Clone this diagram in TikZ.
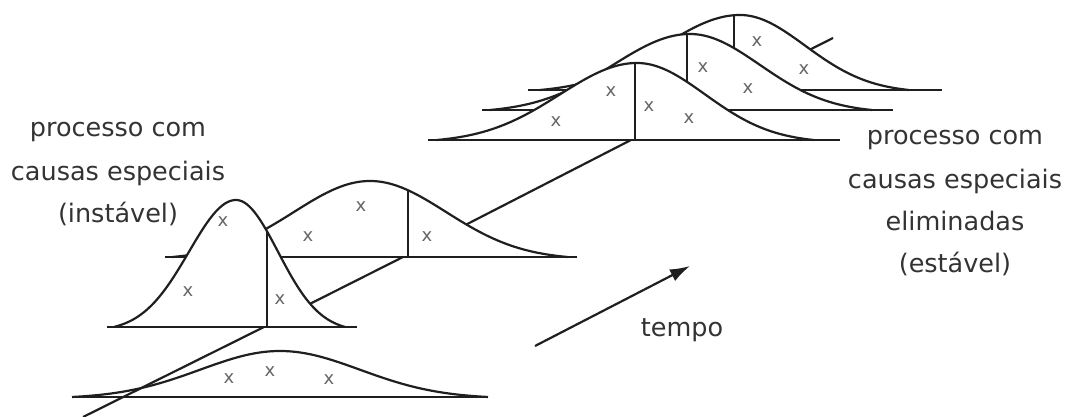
\documentclass[tikz,border=0pt]{standalone}
\usepackage{fontspec}
\setmainfont{DejaVu Sans}
\usetikzlibrary{arrows.meta}
% #1 mean, #2 base y, #3 height, #4 sigma left, #5 sigma right  (tails cut at 2.6 sigma, touching the base)
\newcommand{\bellfill}[5]{%
  \fill[white] ({#1-2.6*#4},#2) -- plot[domain={#1-2.6*#4}:#1,samples=60] (\x,{#2-#3*(exp(-0.5*((\x-#1)/#4)*((\x-#1)/#4))-0.034)/0.966})
    -- plot[domain=#1:{#1+2.6*#5},samples=60] (\x,{#2-#3*(exp(-0.5*((\x-#1)/#5)*((\x-#1)/#5))-0.034)/0.966}) -- cycle;}
\newcommand{\bellcurve}[5]{%
  \draw[curve] plot[domain={#1-2.6*#4}:#1,samples=60] (\x,{#2-#3*(exp(-0.5*((\x-#1)/#4)*((\x-#1)/#4))-0.034)/0.966})
    -- plot[domain=#1:{#1+2.6*#5},samples=60] (\x,{#2-#3*(exp(-0.5*((\x-#1)/#5)*((\x-#1)/#5))-0.034)/0.966});}
\begin{document}
\begin{tikzpicture}[x=1pt,y=-1pt,
  curve/.style={line width=2.2pt, draw=black!88, line join=round},
  xmk/.style={font=\fontsize{18}{18}\selectfont, text=black!60, inner sep=0pt},
  lbl/.style={font=\fontsize{25.5}{30}\selectfont, text=black!80, inner sep=0pt, anchor=base}]
\useasboundingbox (0,0) rectangle (1065,417);

% time axis through the base points
\coordinate (a0) at (83,417);
\coordinate (b2) at (264,327);
\coordinate (b3) at (403,257);
\coordinate (b4) at (630,140.5);
\coordinate (a1) at (833,38);
\draw[curve] (a0) -- (b2) -- (b3) -- (b4) -- (a1);

% D6 (back)
\bellfill{740}{90}{75}{77}{65}
\coordinate (l6a) at (528,90); \coordinate (l6b) at (942,90);
\draw[curve] (l6a) -- (l6b);
\bellcurve{740}{90}{75}{77}{65}
\coordinate (v6a) at (734,90); \coordinate (v6b) at (734,15.2);
\draw[curve] (v6a) -- (v6b);

% D5
\bellfill{690}{110}{76}{77}{70}
\coordinate (l5a) at (482,110); \coordinate (l5b) at (893,110);
\draw[curve] (l5a) -- (l5b);
\bellcurve{690}{110}{76}{77}{70}
\coordinate (v5a) at (687,110); \coordinate (v5b) at (687,34);
\draw[curve] (v5a) -- (v5b);

% D4
\bellfill{637}{140}{77}{77}{68}
\coordinate (l4a) at (428,140); \coordinate (l4b) at (840,140);
\draw[curve] (l4a) -- (l4b);
\bellcurve{637}{140}{77}{77}{68}
\coordinate (v4a) at (635,140); \coordinate (v4b) at (635,63);
\draw[curve] (v4a) -- (v4b);

% D3
\bellfill{370}{257}{76}{76}{76}
\coordinate (l3a) at (165,257); \coordinate (l3b) at (577,257);
\draw[curve] (l3a) -- (l3b);
\bellcurve{370}{257}{76}{76}{76}
\coordinate (v3a) at (408,257); \coordinate (v3b) at (408,190.2);
\draw[curve] (v3a) -- (v3b);

% D2
\bellfill{236}{327}{127}{47}{42}
\coordinate (l2a) at (107,327); \coordinate (l2b) at (357,327);
\draw[curve] (l2a) -- (l2b);
\bellcurve{236}{327}{127}{47}{42}
\coordinate (v2a) at (267,327); \coordinate (v2b) at (267,231.3);
\draw[curve] (v2a) -- (v2b);

% D1 (front)
\coordinate (l1a) at (73,397); \coordinate (l1b) at (487,397);
\draw[curve] (l1a) -- (l1b);
\bellcurve{280}{397}{46}{80}{80}

% x marks
\foreach \p [count=\i] in {(229,379),(270,372),(329,380),
  (223,222),(188,292),(280,300),
  (308,237),(361,207),(427,237),
  (556,122),(611,92),(649,107),(689,119),(703,68),(748,89),(757,42),(804,70)}
  \node[xmk] (x\i) at \p {x};

% labels
\node[lbl] (la1) at (118,137) {processo com};
\node[lbl] (la2) at (118,180) {causas especiais};
\node[lbl] (la3) at (118,222) {(instável)};
\node[lbl] (lb1) at (955,145) {processo com};
\node[lbl] (lb2) at (955,188) {causas especiais};
\node[lbl] (lb3) at (955,230) {eliminadas};
\node[lbl] (lb4) at (955,272) {(estável)};

% time arrow
\coordinate (t0) at (535,346);
\coordinate (t1) at (690,266);
\draw[curve, -{Latex[length=20pt,width=13pt]}] (t0) -- (t1);
\node[lbl] (tempo) at (682,336) {tempo};
\end{tikzpicture}
\end{document}
